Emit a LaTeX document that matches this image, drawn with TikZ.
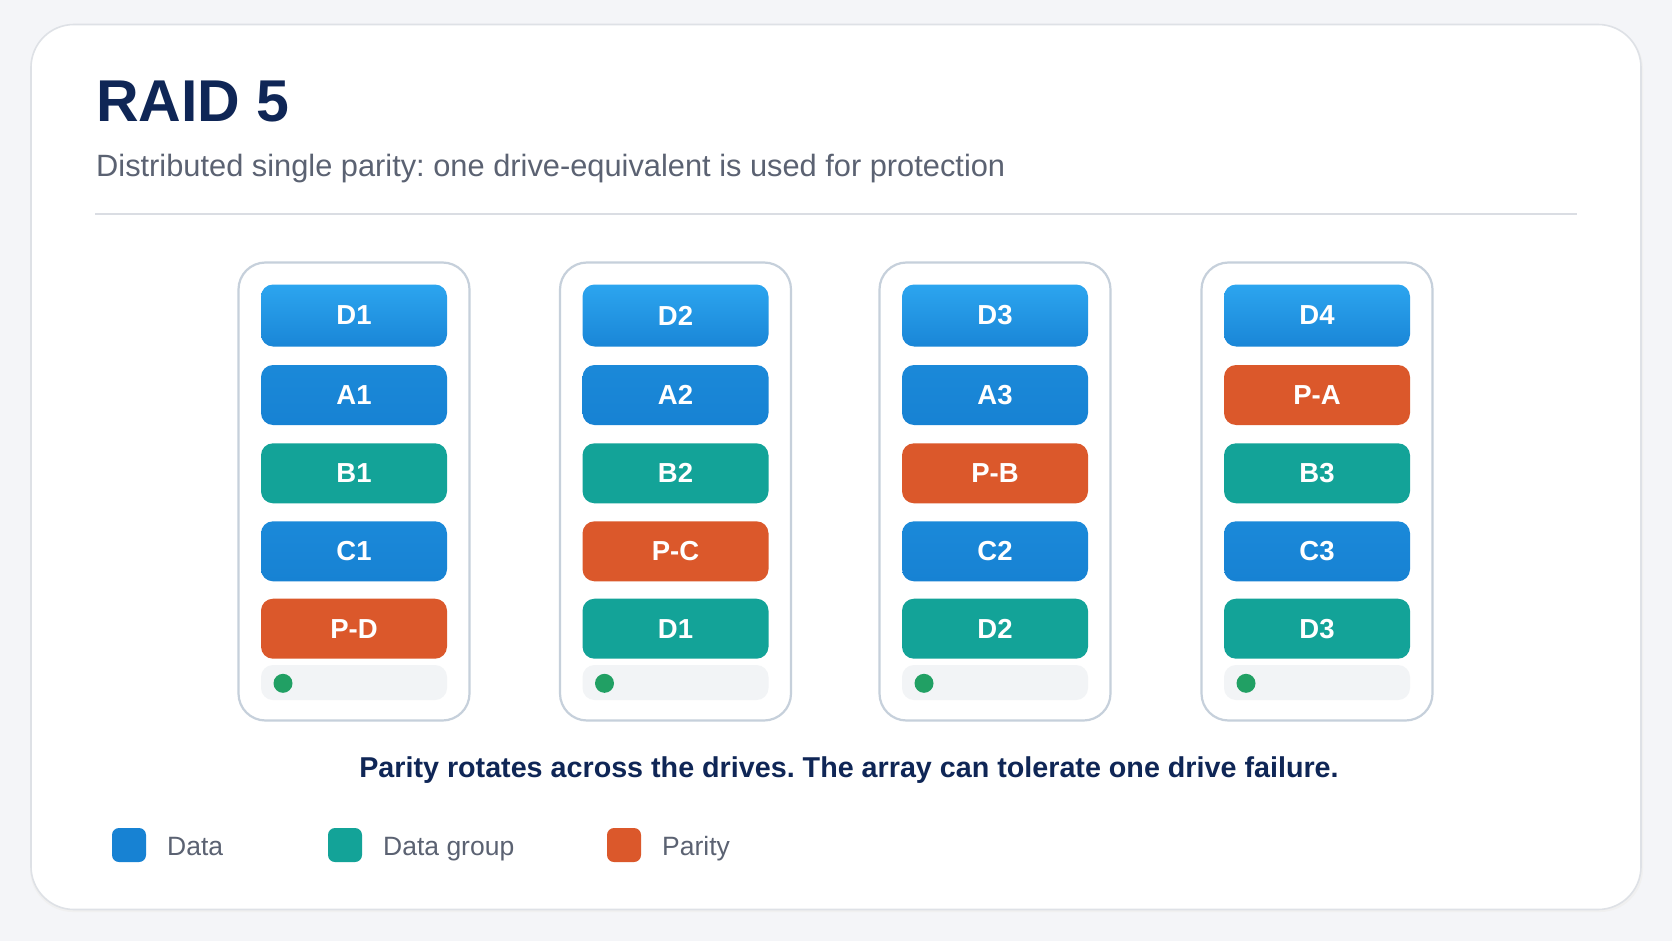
\documentclass[tikz,border=0pt]{standalone}
\usepackage{fontspec}
\setmainfont{Liberation Sans}
\frenchspacing
\definecolor{bgc}{HTML}{F4F5F8}
\definecolor{cardline}{HTML}{DEE1E6}
\definecolor{navy}{HTML}{0F2656}
\definecolor{subgray}{HTML}{5B6272}
\definecolor{sepc}{HTML}{DADDE3}
\definecolor{driveline}{HTML}{C6D0DB}
\definecolor{blueA}{HTML}{2CA5EF}
\definecolor{blueB}{HTML}{1A86D7}
\definecolor{blueData}{HTML}{1782D3}
\definecolor{blueDataTop}{HTML}{1B89D9}
\definecolor{tealc}{HTML}{13A398}
\definecolor{orangec}{HTML}{DB582B}
\definecolor{statusc}{HTML}{F2F4F6}
\definecolor{greenc}{HTML}{21A064}
\tikzset{
  drivebox/.style={draw=driveline, line width=2.2pt, fill=white, rounded corners=27pt},
  blk/.style={minimum width=186pt, minimum height=60pt, inner sep=0pt, rounded corners=12pt,
              text=white, font=\fontsize{27.5}{30}\selectfont\bfseries},
  topblk/.style={blk, top color=blueA, bottom color=blueB, minimum height=62pt},
  datablk/.style={blk, top color=blueDataTop, bottom color=blueData},
  grpblk/.style={blk, fill=tealc},
  parblk/.style={blk, fill=orangec},
  statusbar/.style={minimum width=186pt, minimum height=35pt, inner sep=0pt, rounded corners=12pt, fill=statusc},
  leddot/.style={circle, fill=greenc, minimum size=19pt, inner sep=0pt},
  legsq/.style={minimum width=34pt, minimum height=34pt, inner sep=0pt, rounded corners=7pt},
  legtxt/.style={anchor=base west, text=subgray, font=\fontsize{26.5}{30}\selectfont, inner sep=0pt},
}
\begin{document}
\begin{tikzpicture}[x=1pt,y=-1pt]
\useasboundingbox (0,0) rectangle (1672,941);
\fill[bgc] (0,0) rectangle (1672,941);
% card
\fill[black!6, rounded corners=43pt] (30,26) rectangle (1643,912);
\draw[cardline, line width=1.6pt, fill=white, rounded corners=43pt] (31,24.5) rectangle (1641,909.5);
% title
\node[anchor=base west, inner sep=0pt, text=navy, font=\fontsize{59}{62}\selectfont\bfseries] (title) at (96,122) {RAID 5};
\node[anchor=base west, inner sep=0pt, text=subgray, font=\fontsize{30.8}{34}\selectfont] (subtitle) at (96,177) {Distributed single parity: one drive-equivalent is used for protection};
\coordinate (sepL) at (95,214);
\coordinate (sepR) at (1577,214);
\draw[sepc, line width=1.8pt] (sepL) -- (sepR);
% drives
\foreach \n/\cx/\a/\sa/\b/\sb/\c/\sc/\d/\sd/\e in {
  1/354/A1/datablk/B1/grpblk/C1/datablk/P-D/parblk/D1,
  2/675.5/A2/datablk/B2/grpblk/P-C/parblk/D1/grpblk/D2,
  3/995/A3/datablk/P-B/parblk/C2/datablk/D2/grpblk/D3,
  4/1317/P-A/parblk/B3/grpblk/C3/datablk/D3/grpblk/D4}{
  \draw[drivebox] (\cx-115.5,262.5) rectangle (\cx+115.5,720.5);
  \node[topblk] (top\n) at (\cx,315.5) {\e};
  \node[\sa] (ra\n) at (\cx,395) {\a};
  \node[\sb] (rb\n) at (\cx,473.3) {\b};
  \node[\sc] (rc\n) at (\cx,551.3) {\c};
  \node[\sd] (rd\n) at (\cx,628.7) {\d};
  \node[statusbar] (st\n) at (\cx,682.5) {};
  \node[leddot] (led\n) at (\cx-71,683.3) {};
}
% caption
\node[anchor=base, inner sep=0pt, text=navy, font=\fontsize{28.7}{32}\selectfont\bfseries] (caption) at (849,777.5) {Parity rotates across the drives. The array can tolerate one drive failure.};
% legend
\node[legsq, fill=blueData] (lg1) at (129,845) {};
\node[legtxt] (lt1) at (167,855) {Data};
\node[legsq, fill=tealc] (lg2) at (345,845) {};
\node[legtxt] (lt2) at (383,855) {Data group};
\node[legsq, fill=orangec] (lg3) at (624,845) {};
\node[legtxt] (lt3) at (662,855) {Parity};
\end{tikzpicture}
\end{document}
